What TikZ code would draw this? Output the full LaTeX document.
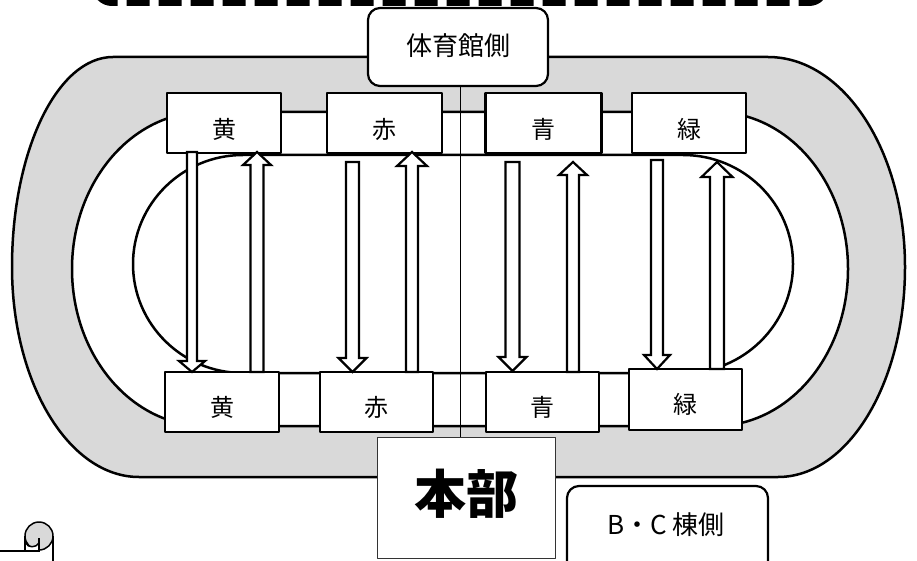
\documentclass[tikz,border=0pt]{standalone}
\usepackage{fontspec}
\newfontfamily\jp{Noto Sans CJK JP}
\definecolor{trackgray}{HTML}{D9D9D9}
\newcommand\blockarrow[6]{%
  \draw[barr] ({#1-#2},#3) -- ({#1+#2},#3) -- ({#1+#2},#4) -- ({#1+#5},#4) -- (#1,#6) -- ({#1-#5},#4) -- ({#1-#2},#4) -- cycle;}
\begin{document}
\begin{tikzpicture}[x=1pt,y=-1pt,line join=round,
  trk/.style={draw=black,line width=2.5pt},
  cbox/.style={draw=black,fill=white,line width=2.3pt,minimum width=114pt,minimum height=60pt,inner sep=0pt},
  clabel/.style={inner sep=0pt,font=\jp\fontsize{24}{24}\selectfont},
  barr/.style={draw=black,fill=white,line width=2.2pt,line join=miter},
  rbox/.style={draw=black,fill=white,line width=2.2pt,rounded corners=12pt,inner sep=0pt}]
\useasboundingbox (0,0) rectangle (917,561);
\clip (0,0) rectangle (917,561);
% dashed top frame
\draw[line width=8pt,dash pattern=on 23pt off 9pt,dash phase=10.4pt,rounded corners=16pt]
  (96,-60) -- (96,2) -- (825,2) -- (825,-60);
% outer track
\path[trk,fill=trackgray] (113,57) -- (768,57)
  arc[start angle=-90,end angle=0,x radius=137,y radius=210]
  arc[start angle=0,end angle=90,x radius=127,y radius=210]
  -- (139,477)
  arc[start angle=90,end angle=180,x radius=127,y radius=210]
  arc[start angle=180,end angle=270,x radius=101,y radius=210] -- cycle;
% inner boundary of gray band
\path[trk,fill=white] (205,112) -- (715,112)
  arc[start angle=-90,end angle=90,x radius=133,y radius=157]
  -- (205,426)
  arc[start angle=90,end angle=270,x radius=133,y radius=157] -- cycle;
% infield
\path[trk,fill=white] (243,155) -- (683,155)
  arc[start angle=-90,end angle=90,x radius=110,y radius=109]
  -- (243,373)
  arc[start angle=90,end angle=270,x radius=110,y radius=109] -- cycle;
% center line
\coordinate (cl1) at (460,86);
\coordinate (cl2) at (460,437);
\draw[line width=1pt] (cl1) -- (cl2);
% top boxes
\node[cbox] (ty) at (224,123) {};
\node[cbox,minimum width=115pt] (tr) at (384.5,123) {};
\node[cbox,minimum width=116pt] (tb) at (543.5,123) {};
\node[cbox] (tg) at (689,123) {};
% bottom boxes
\node[cbox] (by) at (222,402) {};
\node[cbox,minimum width=113pt] (br) at (376.5,402) {};
\node[cbox,minimum width=113pt] (bb) at (542.5,402) {};
\node[cbox,minimum width=113pt,minimum height=61pt] (bg) at (685.5,399.5) {};
% labels
\node[clabel] (lty) at (224,129) {黄};
\node[clabel] (ltr) at (384.5,129) {赤};
\node[clabel] (ltb) at (543.5,129) {青};
\node[clabel] (ltg) at (689,129) {緑};
\node[clabel] (lby) at (222,407) {黄};
\node[clabel] (lbr) at (376.5,407) {赤};
\node[clabel] (lbb) at (542.5,407) {青};
\node[clabel] (lbg) at (685.5,404) {緑};
% block arrows: cx, shaft half width, shaft end y, head base y, head half width, tip y
\blockarrow{192}{5}{152}{361}{13}{372}
\blockarrow{257}{6.5}{372}{165}{14}{152}
\blockarrow{352.5}{6.5}{162}{358}{14}{372}
\blockarrow{412}{6}{372}{166}{15}{152}
\blockarrow{512.5}{7}{162}{357}{14}{371}
\blockarrow{573}{6}{372}{175}{14}{162}
\blockarrow{657}{6}{160}{355}{13}{369}
\blockarrow{717}{7}{369}{177}{15.5}{162}
% gymnasium side
\node[rbox,minimum width=180pt,minimum height=78pt] (gym) at (458,47) {};
\node[inner sep=0pt,font=\jp\fontsize{26}{26}\selectfont] (gymt) at (458,46) {体育館側};
% headquarters
\node[draw=black!80,fill=white,line width=1pt,minimum width=178pt,minimum height=121pt,inner sep=0pt] (hq) at (466,497.5) {};
\node[inner sep=0pt,font=\jp\bfseries\fontsize{52}{52}\selectfont] (hqt) at (466,494) {本部};
% B C side
\node[rbox,minimum width=201pt,minimum height=90pt] (bc) at (667.5,531) {};
\node[inner sep=0pt,font=\jp\fontsize{26}{26}\selectfont] (bct) at (666,525) {B・C 棟側};
% scroll corner
\draw[line width=1.5pt,fill=trackgray] (39,536) circle (14);
\fill[white] (25.7,543) .. controls (28,548) and (36,548) .. (39,543) -- (39,551) -- (25.7,551) -- cycle;
\draw[line width=1.5pt] (0,551) -- (40,551);
\draw[line width=1.5pt] (53,536) -- (53,561);
\draw[line width=1.5pt] (25,536) -- (25,551);
\draw[line width=1.5pt] (39,538) -- (39,551);
\draw[line width=1.5pt] (25.7,543) .. controls (28,548) and (36,548) .. (39,543);
\end{tikzpicture}
\end{document}
